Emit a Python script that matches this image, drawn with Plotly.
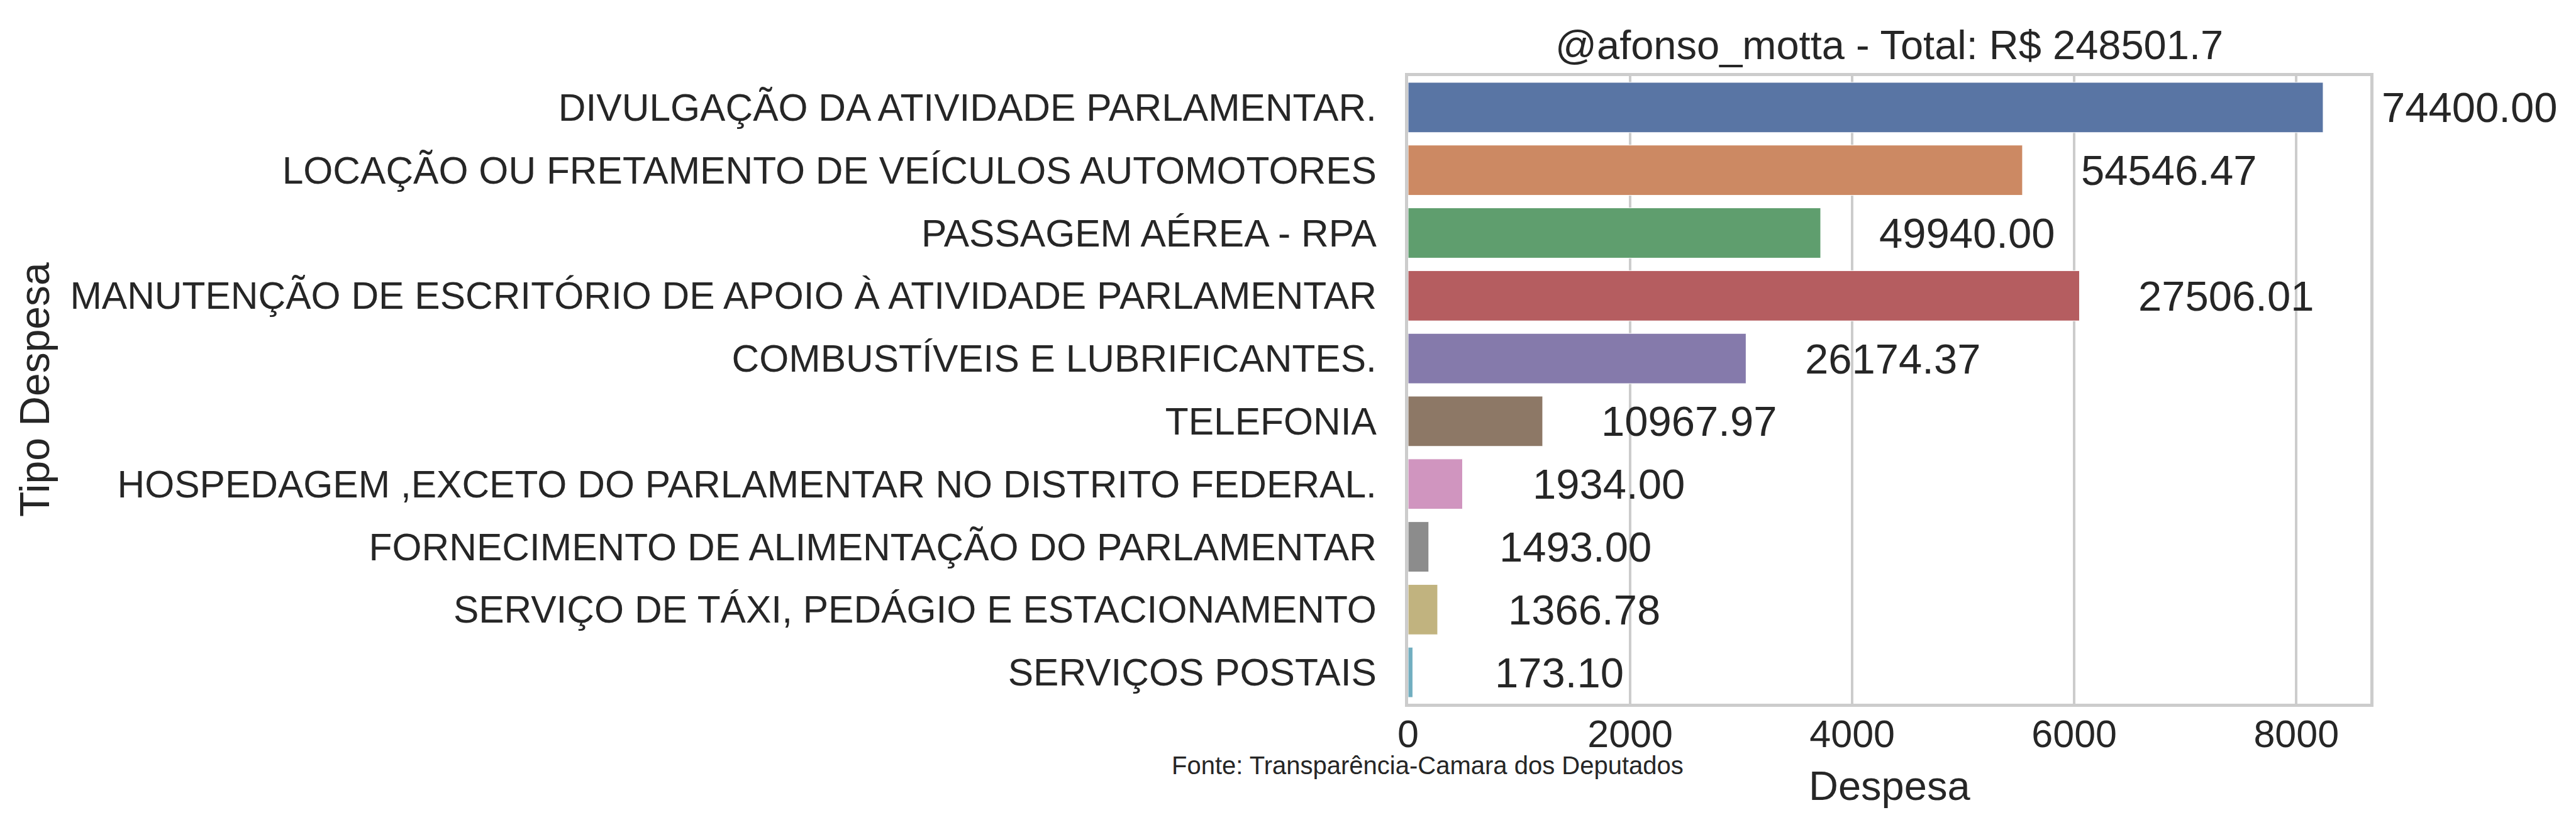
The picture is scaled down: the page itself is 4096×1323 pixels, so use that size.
import plotly.graph_objects as go

categories = [
    "DIVULGAÇÃO DA ATIVIDADE PARLAMENTAR.",
    "LOCAÇÃO OU FRETAMENTO DE VEÍCULOS AUTOMOTORES",
    "PASSAGEM AÉREA - RPA",
    "MANUTENÇÃO DE ESCRITÓRIO DE APOIO À ATIVIDADE PARLAMENTAR",
    "COMBUSTÍVEIS E LUBRIFICANTES.",
    "TELEFONIA",
    "HOSPEDAGEM ,EXCETO DO PARLAMENTAR NO DISTRITO FEDERAL.",
    "FORNECIMENTO DE ALIMENTAÇÃO DO PARLAMENTAR",
    "SERVIÇO DE TÁXI, PEDÁGIO E ESTACIONAMENTO",
    "SERVIÇOS POSTAIS",
]
bar_values = [8242, 5534, 3716, 6047, 3044, 1212, 490, 186, 266, 42]
totals = [74400.00, 54546.47, 49940.00, 27506.01, 26174.37, 10967.97, 1934.00, 1493.00, 1366.78, 173.10]
x_ticks = [0, 2000, 4000, 6000, 8000]
total_sum = 248501.7
colors = ["#5975a4", "#cc8963", "#5f9e6e", "#b55d60", "#857aab",
          "#8d7866", "#d095bf", "#8c8c8c", "#c1b37f", "#71aec0"]

W, H = 4096, 1323
L, R, T, B = 2231, 3761, 113, 1111
PW, PH = R - L, B - T
XMAX = 8667
LABEL_OFFSET = 1318  # data units past the bar end (label centre)

def px(xp):
    return (xp - L) / PW

def py(yp):
    return (B - yp) / PH

TXT = "#262626"
FONT = "Liberation Sans, Arial, sans-serif"

fig = go.Figure()
fig.add_trace(go.Bar(
    x=bar_values, y=categories, orientation="h",
    marker=dict(color=colors, line=dict(color="white", width=1)),
    width=0.8, showlegend=False, hoverinfo="skip",
))

fig.update_layout(
    width=W, height=H,
    margin=dict(l=L, r=W - R, t=T, b=H - B, autoexpand=False),
    paper_bgcolor="white", plot_bgcolor="white",
    font=dict(family=FONT, color=TXT),
)
fig.update_xaxes(
    range=[0, XMAX], tickvals=x_ticks, ticktext=[str(v) for v in x_ticks],
    showgrid=True, gridcolor="#cccccc", gridwidth=4, zeroline=False,
    showline=True, mirror=True, linecolor="#cccccc", linewidth=5,
    ticks="", ticklen=0, ticklabelstandoff=-9,
    tickfont=dict(size=61, color=TXT, family=FONT),
)
fig.update_yaxes(
    categoryorder="array", categoryarray=categories,
    range=[9.5, -0.5], showgrid=False, zeroline=False,
    showline=True, mirror=True, linecolor="#cccccc", linewidth=5,
    ticks="outside", ticklen=33, tickcolor="rgba(0,0,0,0)",
    tickfont=dict(size=60.5, color=TXT, family=FONT),
)

ann = []
# value labels, placed a fixed distance past each bar end
for cat, v, t in zip(categories, bar_values, totals):
    ann.append(dict(text=f"{t:.2f}", x=(v + LABEL_OFFSET) / XMAX, y=cat,
                    xref="paper", yref="y", xanchor="center", yanchor="middle",
                    showarrow=False, font=dict(size=67, color=TXT, family=FONT)))
ann.append(dict(text=f"@afonso_motta - Total: R$ {total_sum}", x=0.5, y=py(63),
                xref="paper", yref="paper", xanchor="center", yanchor="middle",
                showarrow=False, font=dict(size=65, color=TXT, family=FONT)))
ann.append(dict(text="Despesa", x=0.5, y=py(1241),
                xref="paper", yref="paper", xanchor="center", yanchor="middle",
                showarrow=False, font=dict(size=65, color=TXT, family=FONT)))
ann.append(dict(text="Tipo Despesa", x=px(47), y=0.5, textangle=-90,
                xref="paper", yref="paper", xanchor="center", yanchor="middle",
                showarrow=False, font=dict(size=66, color=TXT, family=FONT)))
ann.append(dict(text="Fonte: Transparência-Camara dos Deputados", x=px(1853), y=py(1209),
                xref="paper", yref="paper", xanchor="left", yanchor="middle",
                showarrow=False, font=dict(size=40, color=TXT, family=FONT)))
fig.update_layout(annotations=ann)

fig.write_html("out.html")
